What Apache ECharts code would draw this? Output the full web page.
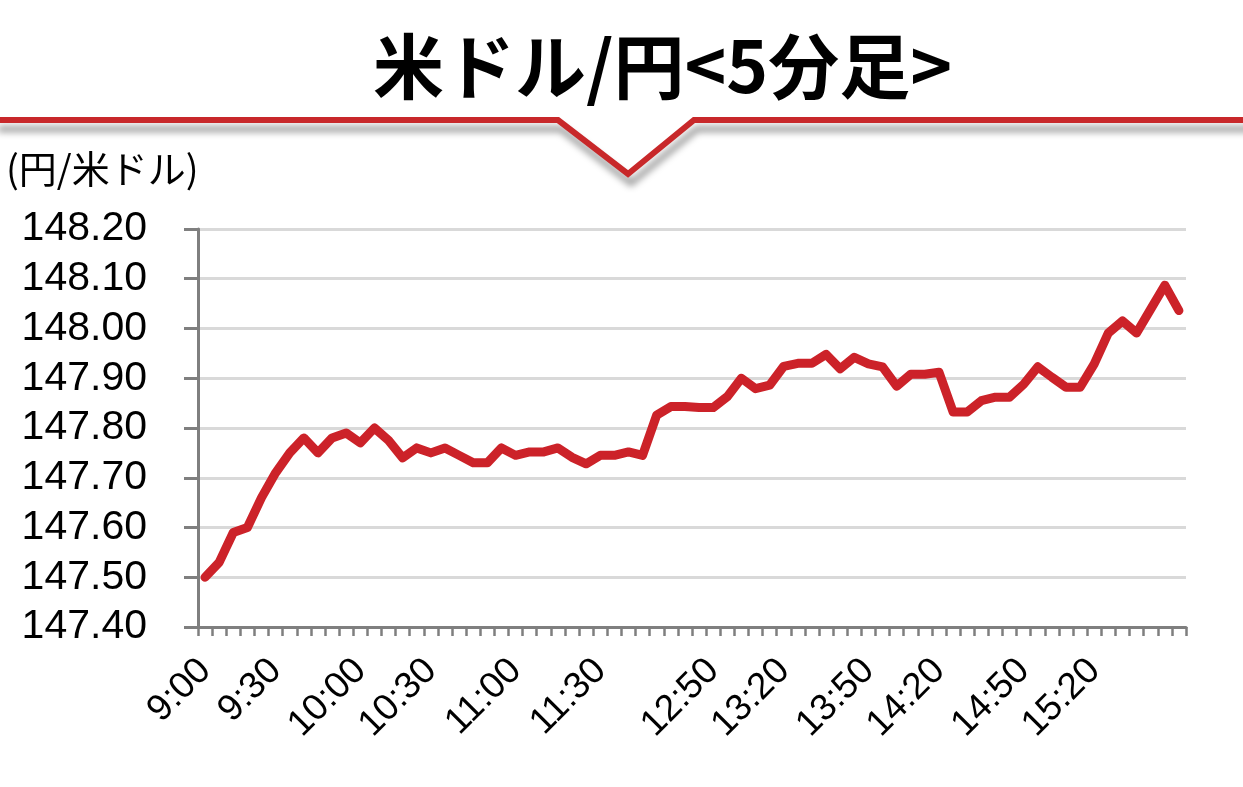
<!DOCTYPE html>
<html>
<head>
<meta charset="utf-8">
<script src="https://cdn.jsdelivr.net/npm/echarts@6/dist/echarts.min.js"></script>
<style>
html,body{margin:0;padding:0;background:#fff;}
#chart{width:1243px;height:787px;}
</style>
</head>
<body>
<div id="chart"></div>
<script>
const titleText = '米ドル/円<5分足>';
const unitText = '(円/米ドル)';

const categories = [
  '9:00','9:05','9:10','9:15','9:20','9:25','9:30','9:35','9:40','9:45','9:50','9:55',
  '10:00','10:05','10:10','10:15','10:20','10:25','10:30','10:35','10:40','10:45','10:50','10:55',
  '11:00','11:05','11:10','11:15','11:20','11:25','11:30','11:35',
  '12:30','12:35','12:40','12:45','12:50','12:55',
  '13:00','13:05','13:10','13:15','13:20','13:25','13:30','13:35','13:40','13:45','13:50','13:55',
  '14:00','14:05','14:10','14:15','14:20','14:25','14:30','14:35','14:40','14:45','14:50','14:55',
  '15:00','15:05','15:10','15:15','15:20','15:25','15:30','15:35'
];

const usdjpy = [
  147.500,147.530,147.590,147.600,147.660,147.710,147.750,147.780,147.750,147.780,
  147.790,147.770,147.800,147.775,147.740,147.760,147.750,147.760,147.745,147.730,
  147.730,147.760,147.745,147.752,147.752,147.760,147.741,147.728,147.745,147.745,
  147.752,147.745,147.826,147.843,147.843,147.841,147.841,147.863,147.900,147.879,
  147.886,147.924,147.930,147.930,147.948,147.919,147.942,147.929,147.923,147.884,
  147.908,147.908,147.912,147.832,147.832,147.855,147.862,147.862,147.888,147.923,
  147.902,147.882,147.882,147.929,147.991,148.015,147.991,148.039,148.087,148.036
];

const tickLabels = ['9:00','9:30','10:00','10:30','11:00','11:30','12:50','13:20','13:50','14:20','14:50','15:20'];
const tickLabelSlots = [0,5,11,16,22,28,36,41,47,52,58,63];

const yMin = 147.4, yMax = 148.2, yStep = 0.1;

const chart = echarts.init(document.getElementById('chart'), null, {renderer: 'canvas'});

const axisGray = '#7f7f7f';
const lineRed = '#cc2229';

chart.setOption({
  animation: false,
  backgroundColor: '#ffffff',
  grid: {left: 198, right: 57, top: 229, bottom: 160, containLabel: false, outerBoundsMode: 'none'},
  xAxis: {
    type: 'category',
    data: categories,
    boundaryGap: true,
    axisLine: {show: true, lineStyle: {color: axisGray, width: 3}},
    axisTick: {show: true, interval: 0, length: 9, lineStyle: {color: axisGray, width: 2.5}},
    axisLabel: {
      rotate: 45,
      margin: 38,
      fontSize: 37,
      color: '#000',
      fontFamily: 'Liberation Sans, Arial, sans-serif',
      interval: function (idx) { return tickLabelSlots.indexOf(idx) >= 0; },
      formatter: function (val, idx) {
        const k = tickLabelSlots.indexOf(idx);
        return k >= 0 ? tickLabels[k] : '';
      }
    },
    splitLine: {show: false}
  },
  yAxis: {
    type: 'value',
    min: yMin,
    max: yMax,
    interval: yStep,
    axisLine: {show: true, lineStyle: {color: axisGray, width: 3}},
    axisTick: {show: true, length: 14, lineStyle: {color: axisGray, width: 3}},
    axisLabel: {
      fontSize: 41,
      margin: 51,
      color: '#000',
      fontFamily: 'Liberation Sans, Arial, sans-serif',
      formatter: function (v) { return v.toFixed(2); }
    },
    splitLine: {show: true, lineStyle: {color: '#d9d9d9', width: 3}}
  },
  series: [{
    type: 'line',
    data: usdjpy,
    symbol: 'none',
    smooth: false,
    lineStyle: {color: lineRed, width: 9, cap: 'round', join: 'round'},
    z: 5
  }],
  graphic: [
    {
      type: 'polyline',
      shape: {points: [[-5, 120], [558, 120], [628, 174], [694, 120], [1250, 120]]},
      style: {
        stroke: '#c8282a', lineWidth: 6, fill: null, lineJoin: 'miter',
        shadowColor: 'rgba(0,0,0,0.4)', shadowBlur: 7, shadowOffsetX: 3, shadowOffsetY: 9
      },
      z: 10
    },
    {
      type: 'text',
      left: 373,
      top: 31,
      style: {
        text: titleText,
        font: 'bold 71px "Noto Sans CJK JP", sans-serif',
        fill: '#000'
      },
      z: 11
    },
    {
      type: 'text',
      left: 6,
      top: 150,
      style: {
        text: unitText,
        font: '38px "Noto Sans CJK JP", sans-serif',
        fill: '#000'
      },
      z: 11
    }
  ]
});
</script>
</body>
</html>
